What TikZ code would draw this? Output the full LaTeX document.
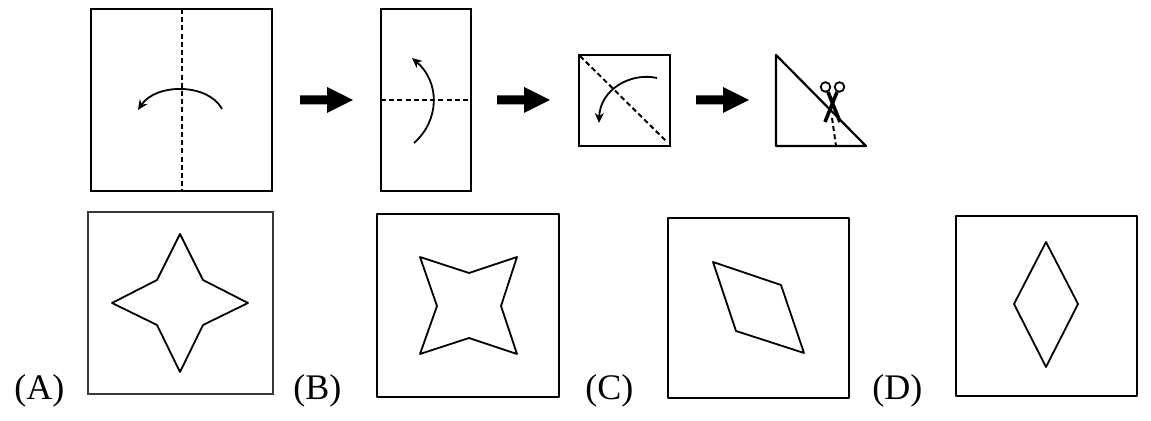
\documentclass[tikz,border=0pt]{standalone}
\usepackage{fontspec}
\setmainfont{Liberation Serif}
\usetikzlibrary{arrows.meta}

\begin{document}
\begin{tikzpicture}[x=0.5pt, y=-0.5pt,
    fold/.style={dash pattern=on 2.5pt off 1.6pt, line width=1pt},
    paper/.style={line width=1.1pt},
    choice/.style={line width=0.9pt, line join=round},
    tag/.style={anchor=base west, inner sep=0pt, font=\fontsize{18}{21}\selectfont},
    >={Stealth[length=5pt,width=4.5pt]}]
    \useasboundingbox (0,0) rectangle (1151,421);
    % step 1
    \draw[paper] (91,9) rectangle (272,191);
    \draw[fold] (181.5,9) -- (181.5,191);
    \draw[->, line width=0.9pt] (222,109) .. controls (208,83) and (156,83) .. (138,110);
    % step 2
    \draw[paper] (381,9) rectangle (471,191);
    \draw[fold] (381,100) -- (471,100);
    \draw[->, line width=0.9pt] (414,143) .. controls (440,120) and (440,82) .. (412,58);
    % step 3
    \draw[paper] (579,55) rectangle (670,146);
    \draw[fold] (580,56) -- (666,141);
    \draw[->, line width=0.9pt] (657,78) .. controls (630,72) and (600,90) .. (599,123);
    % step 4 with scissors
    \draw[paper, line join=round] (776,55) -- (776,146) -- (866,146) -- cycle;
    \draw[fold] (832,118) -- (836,146);
    \draw[line width=0.9pt] (825.5,87) circle[radius=2.4pt] (839.5,87) circle[radius=2.4pt];
    \draw[line width=1.8pt] (828,92) -- (840,122) (837,92) -- (825,122);
    % block arrows
    \foreach \x in {300,497,696}
        \fill (\x,95.5) -- ++(27,0) -- ++(0,-8.5) -- ++(26,13) -- ++(-26,13) -- ++(0,-8.5) -- ++(-27,0) -- cycle;
    % choices
    \draw[line width=1.3pt, gray!45!black] (88,212) rectangle (273,394);
    \draw[choice] (180,234) -- (203,280) -- (248,303) -- (203,325) -- (180,372) -- (157,325) -- (112,303) -- (157,280) -- cycle;
    \draw[choice] (377,214) rectangle (559,397);
    \draw[choice] (420,257) -- (469,273) -- (517,257) -- (501,306) -- (517,354) -- (469,338) -- (420,354) -- (437,306) -- cycle;
    \draw[choice] (668,218) rectangle (849,398);
    \draw[choice] (713,262) -- (781,285) -- (804,353) -- (736,331) -- cycle;
    \draw[choice] (956,216) rectangle (1137,396);
    \draw[choice] (1046,242) -- (1078,304) -- (1046,367) -- (1014,304) -- cycle;
    \node[tag] (tagA) at (14,400) {(A)};
    \node[tag] (tagB) at (293,400) {(B)};
    \node[tag] (tagC) at (585,400) {(C)};
    \node[tag] (tagD) at (872,400) {(D)};
\end{tikzpicture}
\end{document}
